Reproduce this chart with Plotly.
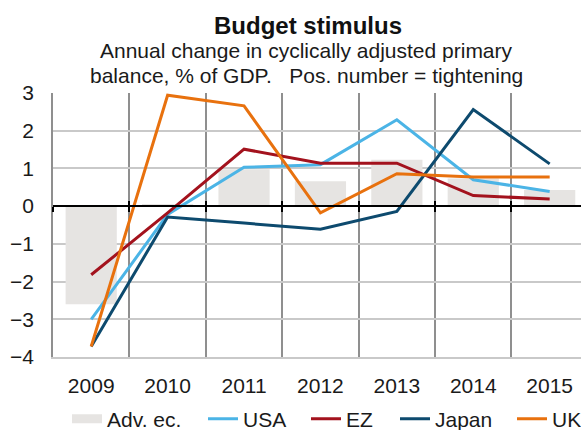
import plotly.graph_objects as go

# Annual change in cyclically adjusted primary balance, % of GDP
years = ["2009", "2010", "2011", "2012", "2013", "2014", "2015"]
adv_ec = [-2.6, 0.06, 0.98, 0.66, 1.23, 0.73, 0.43]
usa = [-3.0, -0.22, 1.03, 1.1, 2.29, 0.7, 0.39]
ez = [-1.82, -0.18, 1.51, 1.14, 1.14, 0.28, 0.19]
japan = [-3.72, -0.29, -0.45, -0.61, -0.14, 2.56, 1.12]
uk = [-3.72, 2.94, 2.66, -0.18, 0.86, 0.77, 0.77]

FONT = "Liberation Sans, Arial, sans-serif"
TXT = "#1a1a1a"
X_RANGE = [-0.5, 6.41]
BAR_COL = "#e6e4e2"

# plot area in pixels: left 53, right 581, top 93, bottom 357
PL, PR, PT, PB = 53, 581, 93, 357


def px_x(p):
    return (p - PL) / (PR - PL)


def px_y(p):
    return (PB - p) / (PB - PT)


fig = go.Figure()
fig.add_trace(go.Bar(x=years, y=adv_ec, name="Adv. ec.", marker_color=BAR_COL,
                     marker_line_width=0, width=0.67, showlegend=False))
# wide swatch for the bar series in the legend
fig.add_trace(go.Scatter(x=[None], y=[None], name="Adv. ec.", mode="lines",
                         line=dict(color=BAR_COL, width=9), legend="legend"))

series = [("USA", usa, "#4bb4e6"), ("EZ", ez, "#a3121d"),
          ("Japan", japan, "#0d4a6e"), ("UK", uk, "#e8710e")]
for i, (name, vals, col) in enumerate(series):
    fig.add_trace(go.Scatter(x=years, y=vals, name=name, mode="lines",
                             line=dict(color=col, width=3),
                             legend="legend%d" % (i + 2)))

# carriers for the zero-line axes
for ax in ("x2", "x3"):
    fig.add_trace(go.Scatter(x=years, y=adv_ec, xaxis=ax, mode="markers",
                             marker=dict(opacity=0), hoverinfo="skip",
                             showlegend=False))

LEG_Y = px_y(419)
legend_text_x = [107, 243, 346, 435, 552]
legends = {}
for i, tx in enumerate(legend_text_x):
    key = "legend" if i == 0 else "legend%d" % (i + 1)
    legends[key] = dict(orientation="h", x=px_x(tx - 40), xanchor="left",
                        y=LEG_Y, yanchor="middle", font=dict(size=21, color=TXT),
                        bgcolor="rgba(0,0,0,0)", borderwidth=0)

zero_axis = dict(type="category", categoryarray=years, range=X_RANGE, overlaying="x",
                 anchor="free", position=4 / 7, side="bottom",
                 tickson="boundaries", ticklen=5, tickcolor="#000", tickwidth=1.5,
                 showticklabels=False, showgrid=False, zeroline=False)

fig.update_layout(
    width=581, height=430,
    margin=dict(l=PL, r=581 - PR, t=PT, b=430 - PB, autoexpand=False),
    paper_bgcolor="white", plot_bgcolor="white",
    font=dict(family=FONT, size=21, color=TXT),
    showlegend=True,
    xaxis=dict(type="category", categoryarray=years, range=X_RANGE,
               tickson="boundaries", showgrid=True, gridcolor="#8f8f8f", gridwidth=1.5,
               ticks="", ticklabelstandoff=9, tickfont=dict(size=21),
               showline=True, linecolor="#c9c9c9", linewidth=2, zeroline=False),
    xaxis2=dict(zero_axis, ticks="outside", showline=True, linecolor="#000", linewidth=2),
    xaxis3=dict(zero_axis, ticks="inside", showline=False),
    yaxis=dict(range=[-4, 3], dtick=1, showgrid=True, gridcolor="#c9c9c9", gridwidth=2,
               zeroline=False, ticks="", ticklabelstandoff=13, tickfont=dict(size=21),
               showline=True, linecolor="#8f8f8f", linewidth=1.5),
    annotations=[
        dict(text="<b>Budget stimulus</b>", xref="paper", yref="paper",
             x=px_x(308), y=px_y(25), xanchor="center", yanchor="middle",
             showarrow=False, font=dict(size=24, color="#111")),
        dict(text="Annual change in cyclically adjusted primary",
             xref="paper", yref="paper", x=px_x(306), y=px_y(50),
             xanchor="center", yanchor="middle", showarrow=False,
             font=dict(size=21, color=TXT)),
        dict(text="balance, % of GDP.   Pos. number = tightening",
             xref="paper", yref="paper", x=px_x(306), y=px_y(76),
             xanchor="center", yanchor="middle", showarrow=False,
             font=dict(size=21, color=TXT)),
    ],
    **legends,
)

fig.write_html("out.html")
